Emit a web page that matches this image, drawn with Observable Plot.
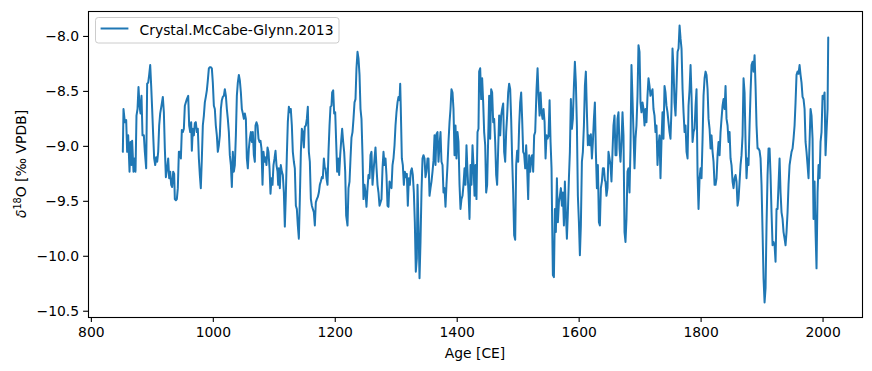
<!DOCTYPE html>
<html><head><meta charset="utf-8">
<script src="https://cdn.jsdelivr.net/npm/d3@7"></script>
<script src="https://cdn.jsdelivr.net/npm/@observablehq/plot@0.6"></script>
<style>
html,body{margin:0;padding:0;background:#fff;}
#chart{width:872px;height:371px;}
</style></head><body><div id="chart"></div>
<script>
const seriesName = "Crystal.McCabe-Glynn.2013";
const xLabel = "Age [CE]";
const xTicks = [800, 1000, 1200, 1400, 1600, 1800, 2000];
const yTicks = [-8.0, -8.5, -9.0, -9.5, -10.0, -10.5];

const ageCE = [
851.6,852.7,854.9,857.1,858.7,860.4,862.6,864.2,865.8,866.9,869.1,870.8,872.4,874.0,875.7,877.3,879.0,880.6,882.2,883.9,886.1,887.7,889.9,891.5,893.2,894.8,896.5,898.1,899.7,901.4,903.0,904.7,906.3,908.0,909.6,911.2,912.9,915.0,917.2,918.9,920.5,922.2,924.3,926.0,927.6,929.3,930.9,932.5,934.2,935.8,936.9,938.6,940.2,941.8,943.5,945.1,946.8,948.4,950.0,951.7,953.3,
954.4,956.6,958.8,960.4,962.1,963.7,964.8,966.4,968.1,969.7,971.3,973.0,974.6,976.3,977.9,979.5,981.2,982.8,984.5,986.1,987.7,989.4,991.0,992.7,994.3,995.9,997.6,999.2,1000.9,1002.5,1004.1,1005.8,1007.4,1009.1,1010.7,1012.4,1014.0,1015.6,1017.3,1018.9,1020.6,1022.2,1023.8,1025.5,1027.1,1028.8,1030.4,1032.0,1033.7,1035.3,1037.0,1038.6,1040.2,1041.9,1043.5,1045.2,1046.8,1048.4,1050.1,1051.7,1053.4,1055.0,1056.6,1058.3,1059.9,1061.6,1063.2,1064.8,1066.5,1068.1,
1069.2,1070.8,1072.5,1074.1,1075.8,1077.4,1079.0,1080.7,1082.3,1084.0,1085.6,1087.2,1088.9,1090.5,1092.2,1093.8,1095.4,1097.1,1098.7,1100.4,1102.0,1103.6,1105.3,1106.4,1107.5,1109.1,1110.7,1112.4,1114.0,1115.7,1117.3,1118.9,1120.6,1122.2,1123.9,1125.5,1127.1,1128.8,1130.4,1132.1,1133.7,1135.4,1137.0,1138.6,1140.3,1141.9,1143.6,1145.2,1146.8,1148.5,1150.1,1151.8,1153.4,1155.0,1156.7,1158.3,1160.0,1161.6,1163.2,1164.9,1166.5,1168.1,1169.8,1171.4,1173.1,1174.7,1176.3,1178.0,1179.6,1181.3,1182.9,
1184.0,1185.6,1187.3,1188.9,1190.6,1192.2,1193.8,1194.9,1196.6,1198.2,1199.9,1201.5,1203.1,1204.8,1206.4,1208.1,1209.7,1211.3,1213.0,1214.6,1216.3,1217.9,1220.1,1221.7,1223.4,1225.0,1226.6,1228.3,1229.9,1231.6,1233.2,1234.8,1236.5,1238.1,1239.8,1241.4,1243.0,1244.7,1246.3,1248.0,1249.6,1251.2,1252.9,1254.5,1256.2,1257.8,1259.4,1261.1,1262.7,1264.4,1266.0,1267.6,1269.3,1270.9,1272.6,1274.2,1275.8,1277.5,1279.1,1280.8,1282.4,1284.0,1285.7,1287.3,1289.0,1290.6,1292.2,1293.9,1295.5,1297.2,
1298.8,1300.4,1302.1,1303.7,1305.4,1306.5,1307.5,1309.2,1310.8,1312.5,1314.1,1315.7,1317.4,1319.0,1320.7,1322.3,1323.9,1325.6,1327.2,1328.9,1330.5,1332.1,1333.8,1334.9,1336.5,1338.2,1339.8,1341.4,1343.1,1344.7,1346.4,1348.0,1349.6,1351.3,1352.9,1354.6,1356.2,1357.8,1359.5,1361.1,1362.8,1364.4,1366.0,1367.7,1369.3,1371.0,1372.6,1374.2,1375.9,1377.5,1379.2,1380.8,1382.4,1384.1,1385.7,1387.4,1389.0,1390.6,1392.3,1393.9,1395.6,1397.2,1398.8,1400.5,1402.1,1403.8,1405.4,1407.0,1408.7,1410.3,1412.0,
1413.6,1415.2,1416.9,1418.5,1420.2,1421.8,1423.4,1425.1,1426.7,1428.4,1430.0,1431.6,1433.3,1434.9,1436.0,1437.7,1439.3,1440.9,1442.6,1444.2,1445.9,1447.5,1449.1,1450.8,1452.4,1454.1,1455.7,1457.3,1459.0,1460.6,1462.3,1463.9,1465.5,1467.2,1468.8,1470.5,1472.1,1473.7,1475.4,1477.0,1478.7,1480.3,1481.9,1483.6,1485.2,1486.9,1488.5,1490.1,1491.8,1493.4,1495.1,1496.7,1498.3,1500.0,1501.6,1503.3,1504.9,1506.5,1508.2,1509.8,1511.5,1513.1,1514.7,1516.4,1518.0,1519.7,1521.3,1522.9,1524.6,1526.2,1527.9,
1530.1,1531.8,1533.4,1535.1,1536.7,1538.3,1540.0,1541.6,1543.3,1544.9,1546.5,1548.2,1549.8,1551.5,1553.1,1554.7,1555.8,1556.9,1558.6,1560.2,1561.8,1563.5,1565.1,1566.8,1568.4,1570.0,1571.7,1573.3,1575.0,1576.6,1578.2,1579.9,1581.5,1583.2,1584.8,1586.4,1588.1,1589.7,1591.4,1593.0,1594.6,1596.3,1597.9,1599.6,1601.2,1602.8,1604.5,1606.1,1607.8,1609.4,1611.0,1612.7,1614.3,1616.0,1617.6,1619.2,1620.9,1622.5,1624.2,1625.8,1627.4,1629.1,1630.7,1632.4,1634.0,1635.6,1637.3,1638.9,1640.6,1642.2,
1643.2,1644.8,1646.5,1648.1,1649.8,1651.4,1653.0,1654.7,1656.3,1658.0,1659.6,1661.2,1662.9,1664.5,1666.2,1667.8,1669.4,1671.1,1672.7,1674.4,1676.0,1677.6,1679.3,1680.9,1682.6,1684.2,1685.8,1687.5,1689.1,1690.8,1692.4,1694.0,1695.7,1697.3,1699.0,1700.6,1702.2,1703.9,1705.5,1707.2,1708.8,1710.4,1712.1,1713.7,1715.4,1717.0,1718.6,1720.3,1721.9,1723.6,1725.2,1726.8,1728.5,1730.1,1731.8,1733.4,1735.0,1736.7,1738.3,1740.0,1741.6,1743.2,1744.9,1746.5,1748.2,1749.8,1751.4,1753.1,1754.7,1756.4,
1758.1,1759.7,1761.4,1763.0,1764.7,1766.3,1767.9,1769.6,1771.2,1772.9,1774.5,1776.1,1777.8,1779.4,1781.1,1782.7,1784.3,1786.0,1787.6,1789.3,1790.9,1792.5,1794.2,1795.8,1797.5,1799.1,1800.7,1802.4,1804.0,1805.7,1807.3,1808.9,1810.6,1812.2,1813.9,1815.5,1817.1,1818.8,1820.4,1822.1,1823.7,1825.3,1827.0,1828.6,1830.3,1831.9,1833.5,1835.2,1836.8,1838.5,1840.1,1841.7,1843.4,1845.0,1846.7,1848.3,1849.9,1851.6,1853.2,1854.9,1856.5,1858.1,1859.8,1861.4,1863.1,1864.7,1866.3,1868.0,1869.6,1871.3,
1872.9,1874.5,1876.2,1877.8,1879.5,1881.1,1882.7,1884.4,1886.0,1887.7,1889.3,1890.9,1892.6,1894.2,1895.9,1897.5,1899.1,1900.8,1902.4,1904.1,1905.7,1907.3,1909.0,1910.6,1912.3,1913.9,1915.5,1917.2,1918.8,1920.5,1922.1,1923.7,1925.4,1927.0,1928.7,1930.3,1931.9,1933.6,1935.2,1936.9,1938.5,1940.1,1941.8,1943.4,1945.1,1946.7,1948.3,1950.0,1951.6,1953.3,1954.9,1956.5,1958.2,1959.8,1961.5,1963.1,1964.7,1966.4,1968.0,1969.7,1971.3,1972.9,1974.6,1976.2,1977.9,1979.5,1981.1,1982.8,1984.4,1986.1,1987.7,1989.3,1991.0,1992.6,1994.3,1995.9,1997.5,1999.2,2000.8,2002.5,2004.1,2005.7,2007.4,2008.5
];

const d18O = [
-9.05,-8.66,-8.78,-8.76,-9.05,-8.90,-9.23,-8.96,-9.17,-8.95,-9.23,-9.11,-9.23,-8.72,-8.66,-8.46,-8.63,-8.70,-8.54,-8.90,-8.90,-9.05,-9.20,-8.43,-8.42,-8.35,-8.26,-8.45,-8.66,-8.90,-9.11,-9.17,-9.10,-9.14,-9.05,-8.81,-8.70,-8.63,-8.55,-8.69,-9.02,-9.28,-9.20,-9.11,-9.29,-9.23,-9.35,-9.37,-9.23,-9.25,-9.48,-9.49,-9.48,-9.38,-9.05,-9.05,-9.11,-8.85,-8.87,-8.84,-8.63,
-8.61,-8.57,-8.54,-8.81,-8.87,-8.78,-9.04,-8.84,-8.90,-8.79,-8.78,-8.87,-8.84,-9.11,-9.26,-9.38,-9.11,-8.81,-8.72,-8.60,-8.55,-8.49,-8.40,-8.29,-8.28,-8.28,-8.29,-8.42,-8.63,-8.66,-8.81,-8.90,-9.05,-8.99,-8.90,-8.66,-8.58,-8.55,-8.54,-8.48,-8.54,-8.66,-8.75,-8.87,-9.08,-9.17,-9.37,-9.05,-9.23,-9.17,-8.90,-8.54,-8.42,-8.35,-8.40,-8.51,-8.66,-8.70,-8.75,-8.70,-8.75,-9.11,-9.20,-9.02,-8.93,-8.87,-8.96,-8.87,-9.08,-9.14,
-8.81,-8.78,-8.81,-8.93,-8.96,-8.95,-9.02,-9.35,-9.05,-9.14,-9.10,-9.17,-9.01,-9.05,-9.20,-9.43,-9.29,-9.35,-9.17,-9.11,-9.04,-9.17,-9.23,-9.35,-9.20,-9.38,-9.17,-9.23,-9.26,-9.42,-9.73,-9.45,-9.08,-8.78,-8.64,-8.69,-8.66,-8.81,-9.05,-9.14,-9.20,-9.54,-9.57,-9.72,-9.84,-9.48,-9.05,-8.84,-8.87,-9.01,-8.82,-8.81,-8.75,-8.64,-9.05,-9.14,-9.48,-9.54,-9.57,-9.60,-9.72,-9.51,-9.48,-9.46,-9.42,-9.35,-9.32,-9.28,-9.29,-9.11,-9.20,
-9.20,-9.29,-9.35,-9.05,-8.81,-8.64,-8.63,-8.51,-8.49,-8.70,-8.69,-8.96,-9.23,-9.11,-9.26,-9.08,-8.95,-8.84,-8.96,-9.05,-9.23,-9.63,-9.72,-9.38,-9.32,-9.11,-8.92,-8.87,-8.75,-8.60,-8.57,-8.29,-8.14,-8.20,-8.35,-8.66,-8.75,-9.08,-9.48,-9.35,-9.42,-9.55,-9.38,-9.26,-9.29,-9.08,-9.05,-9.35,-9.23,-9.11,-9.01,-9.19,-9.35,-9.42,-9.54,-9.51,-9.48,-9.20,-9.05,-9.17,-9.11,-9.26,-9.54,-9.55,-9.32,-9.35,-9.38,-9.17,-9.11,-8.99,
-8.81,-8.69,-8.60,-8.55,-8.58,-8.43,-8.66,-9.11,-9.17,-9.35,-9.23,-9.28,-9.25,-9.54,-9.29,-9.35,-9.23,-9.20,-9.26,-9.42,-9.69,-10.14,-10.02,-9.35,-9.72,-10.20,-9.87,-9.42,-9.11,-9.08,-9.11,-9.28,-9.23,-9.11,-9.11,-9.45,-9.38,-9.32,-9.23,-9.13,-8.90,-9.17,-8.89,-8.87,-9.14,-8.99,-8.87,-9.14,-9.17,-9.42,-9.38,-9.55,-9.35,-9.17,-8.96,-8.78,-8.66,-8.48,-8.51,-8.66,-9.08,-8.81,-9.11,-8.87,-8.96,-9.35,-9.57,-9.48,-9.45,-9.35,-9.20,
-9.35,-8.99,-9.23,-9.42,-9.66,-9.17,-9.35,-8.99,-9.17,-9.45,-9.17,-9.48,-8.87,-8.84,-8.32,-8.29,-8.57,-8.38,-8.60,-8.87,-8.99,-9.42,-9.35,-8.93,-8.54,-8.93,-8.48,-8.51,-8.78,-8.75,-8.96,-9.26,-9.35,-9.02,-8.72,-8.90,-8.72,-8.66,-8.61,-9.05,-9.14,-8.87,-8.72,-8.51,-8.43,-8.48,-8.75,-9.11,-9.42,-9.81,-9.85,-9.17,-9.04,-9.14,-8.81,-8.60,-8.51,-8.75,-9.05,-9.07,-9.20,-8.99,-9.20,-9.48,-9.08,-9.23,-9.11,-9.08,-9.23,-8.90,-8.87,
-8.48,-8.29,-8.54,-8.72,-8.51,-8.69,-8.75,-8.66,-8.78,-9.11,-8.90,-8.93,-8.90,-8.58,-8.96,-9.20,-9.72,-10.17,-10.19,-9.57,-9.78,-9.29,-9.69,-9.51,-9.45,-9.38,-9.54,-9.42,-9.72,-9.32,-9.60,-9.84,-9.60,-9.29,-9.05,-8.57,-8.84,-8.75,-8.45,-8.23,-8.42,-8.81,-9.45,-9.69,-9.99,-9.72,-9.14,-9.05,-8.81,-8.45,-8.32,-8.69,-8.99,-8.90,-8.99,-8.89,-9.11,-8.96,-8.75,-8.60,-9.05,-9.38,-9.17,-9.69,-9.72,-9.38,-9.32,-9.20,-9.20,-9.31,
-9.32,-9.45,-9.38,-9.05,-9.11,-9.17,-9.32,-9.05,-8.81,-8.72,-9.08,-9.08,-8.75,-8.69,-9.02,-9.14,-8.96,-8.69,-8.90,-9.78,-9.87,-9.66,-9.23,-9.20,-9.42,-9.02,-8.26,-8.57,-8.87,-9.20,-8.93,-8.81,-8.54,-8.08,-8.14,-8.60,-8.69,-8.60,-8.66,-8.81,-8.66,-8.78,-8.54,-8.38,-8.45,-8.54,-8.51,-8.48,-8.66,-8.72,-8.87,-8.81,-9.17,-8.99,-8.90,-9.29,-8.96,-8.69,-8.93,-8.45,-8.51,-8.63,-8.69,-8.78,-8.87,-8.93,-8.66,-8.11,-8.29,-8.60,
-8.72,-8.45,-8.14,-8.11,-7.90,-8.02,-8.11,-8.48,-8.69,-8.87,-8.81,-9.05,-9.11,-8.63,-8.48,-8.26,-8.54,-8.96,-8.87,-8.84,-8.63,-8.48,-9.26,-9.57,-9.29,-9.20,-9.29,-8.93,-8.54,-8.38,-8.32,-8.35,-8.48,-8.75,-8.84,-9.02,-8.90,-9.05,-9.14,-9.35,-9.35,-9.29,-9.08,-8.96,-9.08,-8.87,-8.75,-8.63,-8.57,-8.66,-8.45,-8.75,-8.81,-8.96,-8.87,-9.11,-9.17,-9.32,-9.38,-9.29,-9.26,-9.32,-9.54,-9.48,-9.32,-9.17,-9.08,-8.90,-8.38,-8.51,
-8.96,-9.29,-9.11,-9.17,-8.81,-8.51,-8.26,-8.23,-8.32,-8.17,-8.45,-8.81,-9.02,-9.02,-9.04,-9.11,-9.35,-9.78,-10.20,-10.42,-10.29,-9.72,-9.26,-9.02,-9.02,-9.26,-9.60,-9.90,-9.87,-9.90,-10.05,-9.57,-9.57,-9.35,-9.11,-9.42,-9.60,-9.66,-9.78,-9.84,-9.90,-9.78,-9.60,-9.35,-9.17,-9.11,-9.05,-9.02,-8.93,-8.81,-8.60,-8.35,-8.32,-8.34,-8.26,-8.35,-8.42,-8.55,-8.57,-8.66,-8.96,-9.05,-9.17,-9.29,-8.96,-8.66,-8.72,-8.93,-9.66,-9.32,-9.78,-10.11,-9.42,-9.17,-9.29,-8.96,-8.87,-8.54,-8.57,-8.51,-9.08,-8.87,-8.66,-8.01
];

const data = ageCE.map((a, i) => ({age: a, value: d18O[i]}));
const FONT = "'DejaVu Sans', sans-serif";
const FS = 13.9;

const chart = Plot.plot({
  width: 872, height: 371,
  marginLeft: 88, marginRight: 10, marginTop: 11, marginBottom: 54,
  style: {fontFamily: FONT, fontSize: FS + "px", color: "black", background: "white"},
  x: {domain: [795.3, 2064.7], axis: null},
  y: {domain: [-10.557, -7.773], axis: null},
  marks: [
    Plot.axisX({ticks: xTicks, tickFormat: "d", tickSize: 4.9, tickPadding: 4.5, strokeWidth: 1.1, label: null}),
    Plot.axisY({ticks: yTicks, tickFormat: ".1f", tickSize: 4.9, tickPadding: 4.5, strokeWidth: 1.1, label: null}),
    Plot.line(data, {x: "age", y: "value", stroke: "#1f77b4", strokeWidth: 2, strokeLinejoin: "round"}),
    Plot.frame({stroke: "black", strokeWidth: 1.1})
  ]
});
document.getElementById("chart").appendChild(chart);

const svg = d3.select(chart);
// x label
svg.append("text").attr("x", (88 + 862) / 2).attr("y", 358)
  .attr("text-anchor", "middle").attr("font-family", FONT).attr("font-size", FS)
  .attr("fill", "black").text(xLabel);
// y label
const yl = svg.append("text").attr("transform", "translate(26,164) rotate(-90)")
  .attr("text-anchor", "middle").attr("font-family", FONT).attr("font-size", FS).attr("fill", "black");
yl.append("tspan").attr("font-style", "italic").text("δ");
yl.append("tspan").attr("font-size", FS * 0.7).attr("dy", -5.5).text("18");
yl.append("tspan").attr("dy", 5.5).text("O [‰ VPDB]");
// legend
const lg = svg.append("g").attr("text-anchor", "start");
lg.append("rect").attr("x", 95.5).attr("y", 17.5).attr("width", 243.5).attr("height", 25.5)
  .attr("rx", 2.8).attr("fill", "white").attr("fill-opacity", 0.8).attr("stroke", "#cccccc").attr("stroke-width", 1);
lg.append("line").attr("x1", 100.6).attr("x2", 128.4).attr("y1", 28.5).attr("y2", 28.5)
  .attr("stroke", "#1f77b4").attr("stroke-width", 2);
lg.append("text").attr("x", 139.5).attr("y", 34.5).attr("text-anchor", "start")
  .attr("font-family", FONT).attr("font-size", FS).attr("fill", "black").text(seriesName);
</script></body></html>
